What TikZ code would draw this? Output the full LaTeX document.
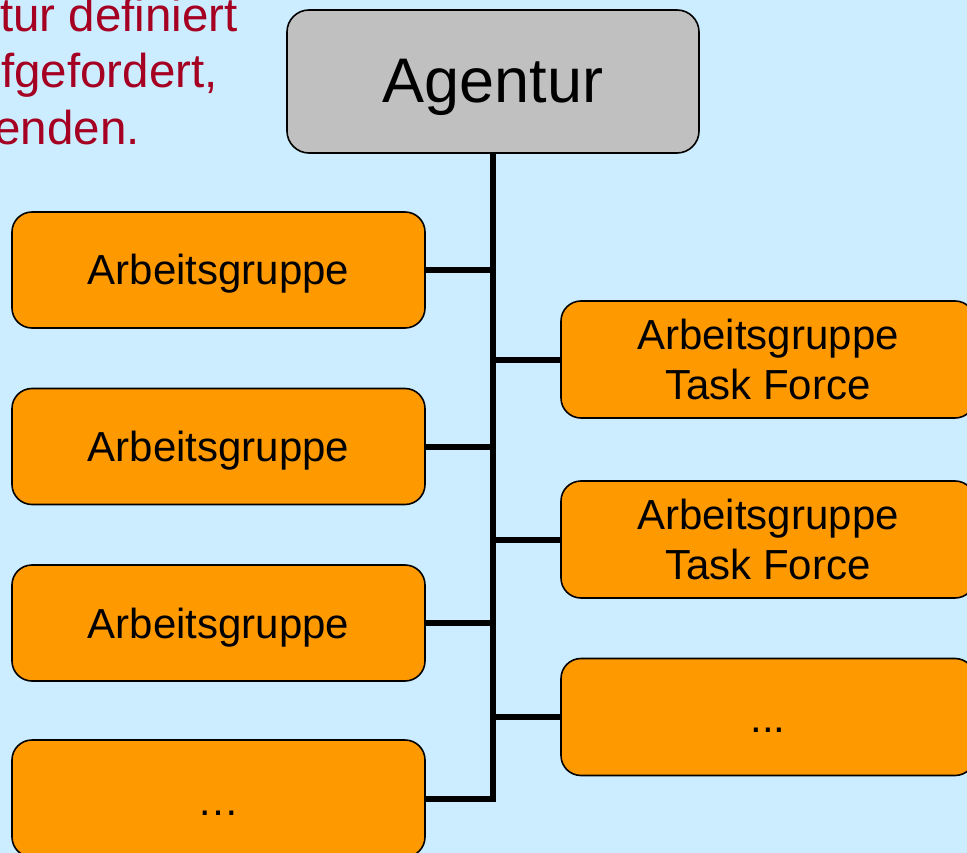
\documentclass[tikz,border=0pt]{standalone}
\usepackage{fontspec}
\setmainfont{Liberation Sans}
\definecolor{bgblue}{HTML}{CCECFF}
\definecolor{boxorange}{HTML}{FF9900}
\definecolor{boxgray}{HTML}{C0C0C0}
\definecolor{textred}{HTML}{A50021}
\begin{document}
\begin{tikzpicture}[x=1pt,y=-1pt,
  orgbox/.style={draw=black, line width=1.6pt, rounded corners=20pt, fill=boxorange,
    minimum width=413pt, minimum height=116pt, align=center, inner sep=0pt,
    font=\fontsize{42}{50}\selectfont},
  onebox/.style={orgbox, text height=30pt, text depth=0pt},
  dotbox/.style={orgbox, text height=#1, text depth=0pt},
  topbox/.style={draw=black, line width=1.6pt, rounded corners=22pt, fill=boxgray,
    minimum width=412pt, minimum height=143pt, inner sep=0pt,
    text height=43pt, text depth=0pt,
    font=\fontsize{63}{70}\selectfont},
  conn/.style={line width=6pt},
  redtext/.style={text=textred, font=\fontsize{47.5}{57}\selectfont, inner sep=0pt, anchor=base east}]
\useasboundingbox (0,0) rectangle (967,853);
\fill[bgblue] (0,0) rectangle (967,853);

\node[redtext] (t1) at (238,32) {tur definiert};
\node[redtext] (t2) at (218,88) {fgefordert,};
\node[redtext] (t3) at (140,145) {enden.};

\node[topbox] (ag) at (493,81.5) {Agentur};

\node[onebox] (l1) at (218.5,270) {Arbeitsgruppe};
\node[onebox] (l2) at (218.5,446.5) {Arbeitsgruppe};
\node[onebox] (l3) at (218.5,623) {Arbeitsgruppe};
\node[dotbox=33pt, minimum height=117pt] (l4) at (218.5,798.5) {…};

\node[orgbox, minimum width=414pt, minimum height=117pt] (r1) at (768,359.5) {Arbeitsgruppe\hspace{0.278em}\\Task Force};
\node[orgbox, minimum width=414pt, minimum height=117pt] (r2) at (768,539.5) {Arbeitsgruppe\hspace{0.278em}\\Task Force};
\node[dotbox=30pt, minimum width=414pt, minimum height=117pt] (r3) at (768,717) {...};

\draw[conn] (ag.south) -- (ag.south |- l4.east) -- (l4.east);
\foreach \n in {l1,l2,l3}{\draw[conn] (\n.east) -- (\n.east -| ag.south);}
\foreach \n in {r1,r2,r3}{\draw[conn] (\n.west) -- (\n.west -| ag.south);}
\end{tikzpicture}
\end{document}
